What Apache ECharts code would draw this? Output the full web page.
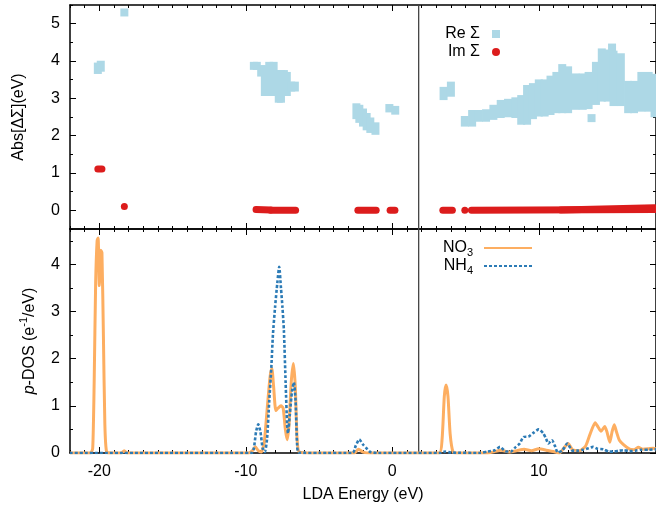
<!DOCTYPE html>
<html>
<head>
<meta charset="utf-8">
<title>Self-energy and p-DOS</title>
<script src="https://cdn.jsdelivr.net/npm/echarts@6/dist/echarts.min.js"></script>
<style>
  html, body { margin: 0; padding: 0; background: #fff; }
  #chart { width: 656px; height: 509px; }
</style>
</head>
<body>
<div id="chart"></div>
<script>
// energy axis (eV)
const eMin = -22, eMax = 18;
const fermiE = 1.8;
const xLabels = [-20, -10, 0, 10];
const topYLabels = [0, 1, 2, 3, 4, 5];
const botYLabels = [0, 1, 2, 3, 4];

// Re Σ : columns of squares [E, lowest, highest]
const reSigma = [
  [-20.1, 3.76, 3.85], [-19.9, 3.82, 3.9], [-18.29, 5.3, 5.3],
  [-9.45, 3.87, 3.87], [-9.25, 3.87, 3.87], [-8.95, 3.69, 3.78], [-8.7, 3.17, 3.78],
  [-8.4, 3.17, 3.87], [-8.1, 3.17, 3.87], [-7.75, 2.99, 3.65], [-7.6, 2.99, 3.65],
  [-7.4, 3.17, 3.65], [-7.2, 3.17, 3.6], [-6.9, 3.29, 3.34], [-6.65, 3.29, 3.34],
  [-2.45, 2.55, 2.76], [-2.25, 2.45, 2.72], [-2.0, 2.35, 2.62], [-1.75, 2.25, 2.5],
  [-1.5, 2.18, 2.38], [-1.15, 2.13, 2.25], [-0.2, 2.73, 2.74], [0.2, 2.67, 2.69],
  [3.5, 3.06, 3.2], [4.0, 3.15, 3.34],
  [4.95, 2.35, 2.42], [5.45, 2.35, 2.58], [5.9, 2.48, 2.58], [6.4, 2.48, 2.6],
  [6.9, 2.53, 2.72], [7.4, 2.58, 2.85], [7.9, 2.6, 2.88], [8.4, 2.58, 2.92],
  [8.8, 2.4, 2.98], [9.2, 2.4, 3.25], [9.6, 2.55, 3.3], [10.0, 2.62, 3.4],
  [10.4, 2.62, 3.4], [10.8, 2.66, 3.5], [11.2, 2.71, 3.6], [11.6, 2.71, 3.81],
  [12.0, 2.71, 3.75], [12.5, 2.8, 3.56], [13.0, 2.8, 3.56], [13.4, 2.82, 3.6],
  [13.6, 2.47, 2.47], [13.9, 2.93, 3.87], [14.3, 3.02, 4.23], [14.7, 3.02, 4.2],
  [15.0, 4.36, 4.36], [15.1, 2.9, 4.17], [15.6, 2.9, 4.1], [16.1, 2.71, 3.36],
  [16.5, 2.71, 3.36], [17.0, 2.75, 3.6], [17.5, 2.75, 3.6], [17.9, 2.6, 3.55]
];

// Im Σ : runs of dots [E start, E end, y start, y end]
const imSigma = [
  [-20.1, -19.82, 1.11, 1.11], [-18.29, -18.29, 0.1, 0.1],
  [-9.3, -8.3, 0.02, 0.01], [-8.3, -6.6, 0, 0],
  [-2.35, -1.1, 0, 0], [-0.15, 0.18, 0, 0],
  [3.45, 4.1, 0, 0], [4.95, 4.95, 0, 0],
  [5.4, 17.9, 0, 0.02], [11.5, 17.9, 0.01, 0.07]
];

// p-DOS (e^-1/eV) : [E, dos]
const no3 = [
  [-22, 0], [-20.6, 0], [-20.45, 0.1], [-20.35, 1.5], [-20.25, 3.6], [-20.15, 4.5],
  [-20.08, 4.56], [-20.0, 3.55], [-19.9, 4.3], [-19.82, 4.25], [-19.72, 2.5],
  [-19.62, 0.6], [-19.5, 0.02], [-19.2, 0], [-18.5, 0], [-18.3, 0.05], [-18.1, 0],
  [-9.8, 0], [-9.55, 0.05], [-9.35, 0.13], [-9.15, 0.05], [-8.95, 0.02], [-8.75, 0.2],
  [-8.55, 0.9], [-8.35, 1.6], [-8.22, 1.79], [-8.1, 1.4], [-7.95, 0.9], [-7.8, 0.95],
  [-7.6, 1.0], [-7.45, 0.95], [-7.3, 0.5], [-7.18, 0.28], [-7.05, 0.6], [-6.9, 1.5],
  [-6.75, 1.9], [-6.62, 1.4], [-6.5, 0.3], [-6.35, 0.02], [-5.5, 0], [-2.6, 0],
  [-2.3, 0.08], [-2.0, 0.02], [-1.5, 0], [3.2, 0], [3.4, 0.3], [3.55, 1.2],
  [3.67, 1.44], [3.8, 1.2], [3.95, 0.4], [4.15, 0.02], [4.5, 0], [6.5, 0],
  [7.0, 0.03], [7.4, 0.06], [8.0, 0.02], [8.5, 0.05], [9.0, 0.08], [9.5, 0.05],
  [10.0, 0.09], [10.5, 0.06], [11.0, 0.03], [11.4, 0], [11.7, 0.1], [12.0, 0.2],
  [12.3, 0.07], [12.8, 0.05], [13.2, 0.15], [13.5, 0.4], [13.85, 0.64], [14.05, 0.55],
  [14.25, 0.46], [14.5, 0.56], [14.65, 0.45], [14.85, 0.23], [15.0, 0.45], [15.15, 0.6],
  [15.3, 0.45], [15.5, 0.27], [15.8, 0.17], [16.2, 0.08], [16.5, 0.07], [16.8, 0.12],
  [17.1, 0.08], [17.5, 0.09], [17.8, 0.1], [18, 0.09]
];
const nh4 = [
  [-22, 0], [-9.6, 0], [-9.45, 0.1], [-9.3, 0.45], [-9.15, 0.61], [-9.0, 0.45],
  [-8.85, 0.1], [-8.7, 0.02], [-8.55, 0.3], [-8.4, 1.1], [-8.26, 1.8], [-8.15, 2.5],
  [-8.0, 3.1], [-7.85, 3.6], [-7.72, 3.95], [-7.6, 3.5], [-7.5, 3.1], [-7.4, 2.6],
  [-7.28, 1.48], [-7.18, 0.6], [-7.12, 0.42], [-7.0, 0.8], [-6.85, 1.3], [-6.72, 1.5],
  [-6.6, 1.1], [-6.5, 0.2], [-6.4, 0.01], [-5, 0], [-2.7, 0], [-2.5, 0.15],
  [-2.25, 0.29], [-2.0, 0.18], [-1.7, 0.08], [-1.5, 0.02], [-1, 0], [3.3, 0],
  [3.6, 0.03], [4.0, 0.01], [6.0, 0], [6.5, 0.03], [7.0, 0.06], [7.35, 0.13],
  [7.7, 0.04], [8.1, 0.03], [8.4, 0.12], [8.7, 0.2], [8.95, 0.34], [9.3, 0.35],
  [9.6, 0.42], [10.0, 0.5], [10.3, 0.42], [10.5, 0.3], [10.65, 0.2], [10.9, 0.27],
  [11.1, 0.15], [11.3, 0.01], [11.6, 0.05], [11.95, 0.2], [12.3, 0.05], [12.7, 0.05],
  [13.0, 0.07], [13.4, 0.1], [13.7, 0.13], [14.0, 0.09], [14.4, 0.08], [14.8, 0.03],
  [15.1, 0.03], [15.5, 0.05], [15.8, 0.06], [16.2, 0.04], [16.6, 0.05], [17.0, 0.07],
  [17.5, 0.07], [18, 0.08]
];

const font = '"Liberation Sans", Arial, Helvetica, sans-serif';
const reColor = '#add8e6';
const imColor = '#dc1c1c';
const no3Color = '#fdae61';
const nh4Color = '#2c7bb6';

// minor ticks every 1 eV / 0.5 unit
const xMinor = Array.from({ length: eMax - eMin + 1 }, (_, i) => eMin + i);
const halfSteps = (lo, hi) => Array.from({ length: Math.round((hi - lo) * 2) + 1 }, (_, i) => lo + i / 2);

const panels = [
  { top: 5, yMin: -0.5, yMax: 5.5, labels: topYLabels, minor: halfSteps(-0.5, 5.5),
    showX: false, yName: 'Abs[ΔΣ](eV)', nameGap: 43 },
  { top: 229, yMin: 0, yMax: 4.75, labels: botYLabels, minor: halfSteps(0, 4.5),
    showX: true, yName: '{i|p}-DOS (e{sup|-1}/eV)', nameGap: 28 }
];

const grids = [], xAxes = [], yAxes = [];
const txt = { color: '#000', fontSize: 16, fontFamily: font };

panels.forEach(p => {
  [false, true].forEach(minor => {
    const gi = grids.length;
    grids.push({ left: 70, top: p.top, width: 590, height: 224 });
    ['bottom', 'top'].forEach(pos => {
      const labelled = !minor && pos === 'bottom' && p.showX;
      xAxes.push({
        gridIndex: gi, type: 'value', min: eMin, max: eMax, position: pos,
        axisLine: { show: !minor, onZero: false, lineStyle: { color: '#000', width: 1.5 } },
        axisTick: { inside: true, length: minor ? 3 : 6, customValues: minor ? xMinor : xLabels,
          lineStyle: { color: '#000', width: 1 } },
        axisLabel: { show: labelled, customValues: xLabels, margin: 11, ...txt },
        splitLine: { show: false },
        name: labelled ? 'LDA Energy (eV)' : '',
        nameLocation: 'middle', nameGap: 34, nameTextStyle: txt
      });
    });
    ['left', 'right'].forEach(pos => {
      const labelled = !minor && pos === 'left';
      yAxes.push({
        gridIndex: gi, type: 'value', min: p.yMin, max: p.yMax, position: pos,
        axisLine: { show: !minor, onZero: false, lineStyle: { color: '#000', width: 1.5 } },
        axisTick: { inside: true, length: minor ? 3 : 6, customValues: minor ? p.minor : p.labels,
          lineStyle: { color: '#000', width: 1 } },
        axisLabel: { show: labelled, customValues: p.labels, margin: 10, ...txt },
        splitLine: { show: false },
        name: labelled ? p.yName : '',
        nameLocation: 'middle', nameRotate: 90, nameGap: p.nameGap,
        nameTextStyle: {
          ...txt,
          rich: {
            i: { fontSize: 16, fontStyle: 'italic', fontFamily: font, color: '#000' },
            sup: { fontSize: 11, fontFamily: font, color: '#000', padding: [0, 0, 13, 0] }
          }
        }
      });
    });
  });
});

function reItem(params, api) {
  const e = api.value(0);
  const lo = api.coord([e, api.value(1)]);
  const hi = api.coord([e, api.value(2)]);
  const s = 8;
  return {
    type: 'rect',
    shape: { x: lo[0] - s / 2, y: hi[1] - s / 2, width: s, height: lo[1] - hi[1] + s },
    style: { fill: reColor }
  };
}

function imItem(params, api) {
  const a = api.coord([api.value(0), api.value(2)]);
  const b = api.coord([api.value(1), api.value(3)]);
  if (api.value(0) === api.value(1)) {
    return { type: 'circle', shape: { cx: a[0], cy: a[1], r: 3.5 }, style: { fill: imColor } };
  }
  return {
    type: 'line',
    shape: { x1: a[0], y1: a[1], x2: b[0], y2: b[1] },
    style: { stroke: imColor, lineWidth: 7, lineCap: 'round' }
  };
}

const fermiLine = (p, idx) => ({
  type: 'line', xAxisIndex: idx, yAxisIndex: idx, silent: true, z: 1,
  data: [[fermiE, p.yMin], [fermiE, p.yMax]], symbol: 'none',
  lineStyle: { color: '#444', width: 1.3 }
});

const option = {
  animation: false,
  backgroundColor: '#fff',
  grid: grids,
  xAxis: xAxes,
  yAxis: yAxes,
  legend: [
    {
      data: [{ name: 'Re Σ', icon: 'rect' }, { name: 'Im Σ', icon: 'circle' }],
      orient: 'vertical', right: 156, top: 26, align: 'right',
      itemWidth: 8, itemHeight: 8, itemGap: 2, padding: 0, selectedMode: false,
      textStyle: { ...txt, width: 40, lineHeight: 8, height: 8, align: 'right', padding: [0, 7, 0, 0] }
    },
    {
      data: ['NO3', 'NH4'],
      orient: 'vertical', right: 123, top: 240, align: 'right',
      itemWidth: 48, itemHeight: 18, itemGap: 0, padding: 0, selectedMode: false,
      itemStyle: { opacity: 0 },
      formatter: n => n.slice(0, 2) + '{s|' + n.slice(2) + '}',
      textStyle: {
        ...txt, width: 42, align: 'right', padding: [0, 6, 0, 0],
        rich: { s: { fontSize: 11, fontFamily: font, color: '#000', padding: [9, 0, 0, 0] } }
      }
    }
  ],
  series: [
    fermiLine(panels[0], 0),
    {
      name: 'Re Σ', type: 'custom', xAxisIndex: 0, yAxisIndex: 0,
      renderItem: reItem, data: reSigma, itemStyle: { color: reColor }, clip: true
    },
    {
      name: 'Im Σ', type: 'custom', xAxisIndex: 0, yAxisIndex: 0,
      renderItem: imItem, data: imSigma, itemStyle: { color: imColor }, clip: true
    },
    fermiLine(panels[1], 4),
    {
      name: 'NO3', type: 'line', xAxisIndex: 4, yAxisIndex: 4, data: no3,
      symbol: 'none', smooth: 0.2, color: no3Color,
      lineStyle: { color: no3Color, width: 3 }
    },
    {
      name: 'NH4', type: 'line', xAxisIndex: 4, yAxisIndex: 4, data: nh4,
      symbol: 'none', smooth: 0.2, color: nh4Color,
      lineStyle: { color: nh4Color, width: 2.6, type: [3, 2] }
    }
  ]
};

const chart = echarts.init(document.getElementById('chart'));
chart.setOption(option);
</script>
</body>
</html>
